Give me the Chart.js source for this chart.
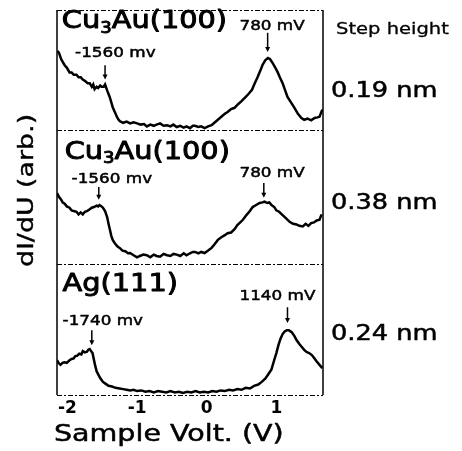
<!DOCTYPE html>
<html>
<head>
<meta charset="utf-8">
<script src="https://cdn.jsdelivr.net/npm/chart.js@4.4.1/dist/chart.umd.min.js"></script>
<style>
  html, body { margin: 0; padding: 0; background: #fff; }
  #wrap { width: 462px; height: 451px; }
</style>
</head>
<body>
<div id="wrap"><canvas id="sts" width="462" height="451"></canvas></div>
<script>
// Sample voltage ticks (V)
const voltTicks = [-2, -1, 0, 1];

// Cu3Au(100), step 0.19 nm
const voltTop = [-2.14, -2.12, -2.09, -2.07, -2.04, -2.01, -1.97, -1.94, -1.91, -1.87, -1.84, -1.81, -1.78, -1.75, -1.71, -1.68, -1.65, -1.63, -1.61, -1.58,
  -1.56, -1.53, -1.51, -1.48, -1.46, -1.43, -1.41, -1.39, -1.37, -1.35, -1.32, -1.29, -1.27, -1.25, -1.20, -1.15, -1.10, -1.05, -1.00, -0.95,
  -0.90, -0.86, -0.81, -0.76, -0.72, -0.67, -0.62, -0.57, -0.52, -0.48, -0.43, -0.38, -0.33, -0.29, -0.24, -0.20, -0.17, -0.12, -0.08, -0.03,
  0.02, 0.07, 0.11, 0.16, 0.21, 0.26, 0.30, 0.35, 0.40, 0.45, 0.50, 0.55, 0.60, 0.65, 0.69, 0.73, 0.77, 0.80, 0.84, 0.88,
  0.91, 0.95, 0.98, 1.02, 1.05, 1.09, 1.12, 1.16, 1.21, 1.26, 1.31, 1.36, 1.40, 1.45, 1.50, 1.55, 1.59, 1.62, 1.66];
const didvTop = [6.6, 6.4, 5.9, 5.7, 5.4, 5.2, 4.8, 4.8, 4.6, 4.6, 4.4, 4.4, 4.2, 4.1, 3.9, 3.9, 3.6, 3.8, 3.4, 3.6,
  3.5, 3.7, 3.6, 3.6, 3.8, 3.3, 3.0, 2.7, 2.3, 1.9, 1.5, 1.1, 0.9, 0.75, 0.6, 0.7, 0.55, 0.65, 0.55, 0.45,
  0.5, 0.3, 0.45, 0.35, 0.45, 0.55, 0.35, 0.4, 0.3, 0.45, 0.25, 0.35, 0.2, 0.3, 0.15, 0.35, 0.35, 0.25, 0.3, 0.15,
  0.3, 0.4, 0.6, 0.85, 1.1, 1.35, 1.5, 1.75, 1.85, 2.15, 2.4, 2.7, 3.0, 3.35, 3.9, 4.4, 4.95, 5.4, 5.8, 6.0,
  5.9, 5.55, 5.25, 4.8, 4.4, 3.9, 3.4, 2.75, 2.3, 1.85, 1.35, 1.0, 0.85, 0.95, 0.8, 1.0, 1.05, 1.1, 1.7];

// Cu3Au(100), step 0.38 nm
const voltMid = [-2.15, -2.12, -2.09, -2.07, -2.04, -2.01, -1.97, -1.94, -1.91, -1.87, -1.84, -1.81, -1.78, -1.75, -1.72, -1.69, -1.65, -1.62, -1.58, -1.56,
  -1.54, -1.51, -1.49, -1.46, -1.43, -1.41, -1.39, -1.37, -1.35, -1.32, -1.28, -1.25, -1.21, -1.17, -1.13, -1.10, -1.05, -1.00, -0.96, -0.91,
  -0.86, -0.81, -0.76, -0.72, -0.67, -0.62, -0.57, -0.52, -0.48, -0.43, -0.38, -0.33, -0.29, -0.24, -0.20, -0.17, -0.12, -0.08, -0.03, 0.02,
  0.07, 0.11, 0.16, 0.21, 0.26, 0.30, 0.35, 0.40, 0.44, 0.47, 0.52, 0.57, 0.62, 0.66, 0.71, 0.76, 0.80, 0.83, 0.87, 0.90,
  0.93, 0.97, 1.00, 1.04, 1.09, 1.14, 1.19, 1.24, 1.29, 1.33, 1.38, 1.42, 1.46, 1.50, 1.54, 1.58, 1.62, 1.65];
const didvMid = [5.3, 5.0, 4.8, 4.6, 4.5, 4.3, 4.2, 4.0, 3.95, 3.9, 3.7, 3.85, 3.7, 3.9, 3.95, 4.05, 4.2, 4.25, 4.35, 4.3,
  4.4, 4.3, 4.2, 3.95, 3.5, 3.0, 2.55, 2.1, 1.8, 1.55, 1.3, 1.2, 1.0, 0.95, 0.8, 0.82, 0.65, 0.5, 0.6, 0.7,
  0.65, 0.5, 0.7, 0.6, 0.55, 0.75, 0.65, 0.6, 0.75, 0.7, 0.6, 0.8, 0.65, 0.8, 0.9, 0.9, 0.8, 0.9, 0.82, 1.0,
  1.2, 1.45, 1.8, 2.0, 2.15, 2.3, 2.35, 2.6, 2.9, 3.05, 3.3, 3.65, 3.95, 4.25, 4.4, 4.55, 4.6, 4.65, 4.55, 4.6,
  4.4, 4.25, 4.0, 3.9, 3.65, 3.4, 3.15, 3.0, 2.95, 2.85, 2.8, 3.0, 2.85, 3.05, 3.1, 3.25, 3.3, 3.7];

// Ag(111), step 0.24 nm
const voltBot = [-2.15, -2.12, -2.10, -2.07, -2.04, -2.01, -1.97, -1.94, -1.91, -1.89, -1.86, -1.83, -1.80, -1.78, -1.75, -1.72, -1.70, -1.68, -1.66, -1.64,
  -1.62, -1.60, -1.58, -1.56, -1.53, -1.49, -1.45, -1.41, -1.36, -1.31, -1.25, -1.20, -1.15, -1.10, -1.05, -1.00, -0.94, -0.88, -0.82, -0.76,
  -0.70, -0.64, -0.58, -0.52, -0.46, -0.40, -0.34, -0.28, -0.22, -0.16, -0.10, -0.04, 0.02, 0.08, 0.14, 0.20, 0.26, 0.32, 0.38, 0.44,
  0.50, 0.56, 0.62, 0.68, 0.74, 0.79, 0.84, 0.88, 0.93, 0.96, 1.00, 1.03, 1.06, 1.09, 1.12, 1.15, 1.18, 1.22, 1.26, 1.29,
  1.33, 1.36, 1.40, 1.43, 1.47, 1.51, 1.54, 1.58, 1.62, 1.66];
const didvBot = [2.65, 2.4, 2.3, 2.45, 2.5, 2.45, 2.65, 2.75, 2.8, 2.95, 3.0, 3.15, 3.1, 3.35, 3.25, 3.3, 3.45, 3.5, 3.35, 3.2,
  2.7, 2.2, 1.8, 1.6, 1.3, 1.0, 0.85, 0.7, 0.65, 0.55, 0.5, 0.45, 0.4, 0.35, 0.4, 0.3, 0.35, 0.25, 0.3, 0.2,
  0.3, 0.25, 0.2, 0.3, 0.2, 0.25, 0.15, 0.25, 0.2, 0.3, 0.2, 0.25, 0.2, 0.3, 0.25, 0.35, 0.3, 0.4, 0.35, 0.45,
  0.4, 0.55, 0.5, 0.7, 0.8, 1.0, 1.25, 1.55, 1.95, 2.5, 3.2, 3.8, 4.3, 4.65, 4.85, 4.95, 4.95, 4.8, 4.5, 4.2,
  3.9, 3.7, 3.45, 3.3, 3.2, 3.05, 2.85, 2.55, 2.3, 2.05];

const stepHeights = ['0.19 nm', '0.38 nm', '0.24 nm'];

const pts = (xs, ys) => xs.map((v, i) => ({ x: v, y: ys[i] }));
const FONT = '"DejaVu Sans", Verdana, sans-serif';
const SX = 1.2; // the scanned lettering is wider than DejaVu

function wideText(ctx, parts, x, y, size, sx = SX, heavy = 0.6) {
  // parts: [text, isSubscript]
  ctx.save();
  ctx.translate(x, y);
  ctx.scale(sx, 1);
  ctx.lineWidth = heavy;
  ctx.lineJoin = 'round';
  let cx = 0;
  parts.forEach(([t, sub]) => {
    ctx.font = `${sub ? Math.round(size * 0.62) : size}px ${FONT}`;
    const ty = sub ? size * 0.28 : 0;
    ctx.fillText(t, cx, ty);
    if (heavy) ctx.strokeText(t, cx, ty);
    cx += ctx.measureText(t).width;
  });
  ctx.restore();
}

// labels and arrows inside each panel, in volts / panel units
const notes = {
  yTop: {
    title: { x: -2.08, y: 9.0, parts: [['Cu'], ['3', 1], ['Au(100)']] },
    peaks: [
      { text: '-1560 mv', tx: -1.89, ty: 6.4, ax: -1.46, a1: 5.4, a2: 4.2 },
      { text: '780 mV', tx: 0.47, ty: 8.6, ax: 0.875, a1: 8.1, a2: 6.5 }
    ]
  },
  yMid: {
    title: { x: -2.04, y: 8.3, parts: [['Cu'], ['3', 1], ['Au(100)']] },
    peaks: [
      { text: '-1560 mv', tx: -1.94, ty: 6.3, ax: -1.55, a1: 5.75, a2: 4.8 },
      { text: '780 mV', tx: 0.47, ty: 6.8, ax: 0.82, a1: 6.05, a2: 4.95 }
    ]
  },
  yBot: {
    title: { x: -2.07, y: 8.4, parts: [['Ag(111)']] },
    peaks: [
      { text: '-1740 mv', tx: -2.07, ty: 5.6, ax: -1.65, a1: 4.95, a2: 3.8 },
      { text: '1140 mV', tx: 0.47, ty: 7.5, ax: 1.16, a1: 6.7, a2: 5.5 }
    ]
  }
};
const stepY = { yTop: 3.2, yMid: 4.5, yBot: 4.6 };

const decorPlugin = {
  id: 'decor',
  afterDraw(chart) {
    const { ctx, chartArea: a, scales } = chart;
    const xs = scales.x;
    ctx.save();
    ctx.strokeStyle = '#000';
    ctx.fillStyle = '#000';

    // frame: solid sides, dashed panel lines
    ctx.lineWidth = 1.5;
    ctx.beginPath();
    ctx.moveTo(a.left, a.top); ctx.lineTo(a.left, a.bottom);
    ctx.moveTo(a.right, a.top); ctx.lineTo(a.right, a.bottom);
    ctx.stroke();
    ctx.lineWidth = 1;
    ctx.setLineDash([5, 2, 2, 2]);
    ctx.beginPath();
    ['yTop', 'yMid', 'yBot'].forEach(id => {
      ctx.moveTo(a.left, scales[id].top + 0.5); ctx.lineTo(a.right, scales[id].top + 0.5);
    });
    ctx.moveTo(a.left, a.bottom + 0.5); ctx.lineTo(a.right, a.bottom + 0.5);
    ctx.stroke();
    ctx.setLineDash([]);

    ctx.textBaseline = 'middle';
    ctx.textAlign = 'left';
    Object.keys(notes).forEach(id => {
      const ys = scales[id];
      const n = notes[id];
      wideText(ctx, n.title.parts, xs.getPixelForValue(n.title.x), ys.getPixelForValue(n.title.y), 24, SX, 0.9);
      n.peaks.forEach(p => {
        wideText(ctx, [[p.text]], xs.getPixelForValue(p.tx), ys.getPixelForValue(p.ty), 14, SX, 0.5);
        const px = xs.getPixelForValue(p.ax);
        const y1 = ys.getPixelForValue(p.a1), y2 = ys.getPixelForValue(p.a2);
        ctx.lineWidth = 1.5;
        ctx.beginPath(); ctx.moveTo(px, y1); ctx.lineTo(px, y2 - 3); ctx.stroke();
        ctx.beginPath(); ctx.moveTo(px - 2.5, y2 - 5); ctx.lineTo(px + 2.5, y2 - 5); ctx.lineTo(px, y2); ctx.closePath(); ctx.fill();
      });
    });

    // step heights on the right
    wideText(ctx, [['Step height']], a.right + 13, scales.yTop.top + 20, 16, 1.22, 0.3);
    ['yTop', 'yMid', 'yBot'].forEach((id, i) => {
      wideText(ctx, [[stepHeights[i]]], a.right + 8, scales[id].getPixelForValue(stepY[id]), 21, 1.22, 0.5);
    });

    // axis titles
    wideText(ctx, [['Sample Volt. (V)']], a.left - 3, 435, 23, 1.24, 0.5);
    ctx.save();
    ctx.translate(27, (a.top + a.bottom) / 2 - 12);
    ctx.rotate(-Math.PI / 2);
    ctx.font = `22px ${FONT}`;
    const w = ctx.measureText('dI/dU (arb.)').width * 1.22;
    ctx.translate(-w / 2, 0);
    ctx.scale(1.22, 1);
    ctx.lineWidth = 0.4;
    ctx.fillText('dI/dU (arb.)', 0, 0);
    ctx.strokeText('dI/dU (arb.)', 0, 0);
    ctx.restore();

    ctx.restore();
  }
};

const panelAxis = (weight) => ({
  type: 'linear', position: 'left', stack: 'panels', stackWeight: weight,
  min: 0, max: 10,
  ticks: { display: false }, grid: { display: false, drawTicks: false }, border: { display: false },
  afterFit: s => { s.width = 0; }
});

new Chart(document.getElementById('sts'), {
  type: 'line',
  data: {
    datasets: [
      { label: 'Cu3Au(100) 0.19 nm', data: pts(voltTop, didvTop), yAxisID: 'yTop' },
      { label: 'Cu3Au(100) 0.38 nm', data: pts(voltMid, didvMid), yAxisID: 'yMid' },
      { label: 'Ag(111) 0.24 nm', data: pts(voltBot, didvBot), yAxisID: 'yBot' }
    ].map(d => ({ ...d, borderColor: '#000', borderWidth: 2.5, pointRadius: 0, tension: 0, fill: false }))
  },
  options: {
    responsive: false,
    animation: false,
    layout: { padding: { left: 57, right: 139, top: 10, bottom: 0 } },
    plugins: { legend: { display: false }, tooltip: { enabled: false } },
    scales: {
      x: {
        type: 'linear', min: -2.15, max: 1.67,
        afterBuildTicks: s => { s.ticks = voltTicks.map(v => ({ value: v })); },
        afterFit: s => { s.height = 56; },
        ticks: { color: '#000', padding: 3, font: { family: FONT, size: 17, weight: 'bold' }, callback: v => String(v) },
        grid: { display: false, drawTicks: false },
        border: { display: false }
      },
      yBot: panelAxis(131),
      yMid: panelAxis(134),
      yTop: panelAxis(120)
    }
  },
  plugins: [decorPlugin]
});
</script>
</body>
</html>
